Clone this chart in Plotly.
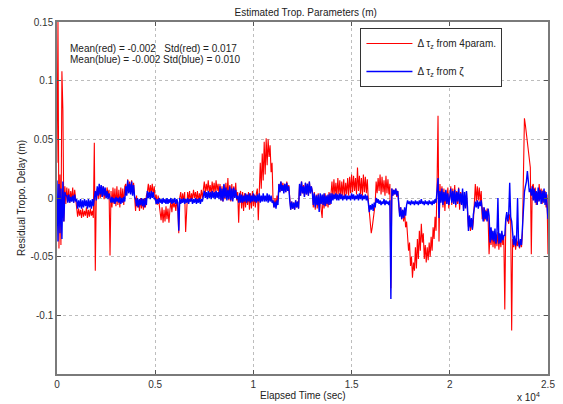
import plotly.graph_objects as go

# Residual tropospheric delay, values in millimetres, one sample every 50 s
sample_interval_s = 50

red_mm = [
    30, 150, -43, 20, -40, 108, 75, -20, 10, -5,
    9, -3, 8, -4, 6, -2, 9, -4, 7, -3,
    -8, -16, -9, -15, -10, -17, -9, -16, -11, -15, -8, -17, -10, -16, -9, -15, -11, -17,
    47, -62,
    2, 8, -1, 9, 0, 7, 1, 10, -1, 8, 0, 9, 2, 7,
    -49,
    6, -8, 9, -5, 8, -7, 10, -6, 7, -8, 9, -4, 8, -6, 10,
    12, 3, 16, 5, 14, 4, 15, 6, 13, 3,
    -11, 2, -8,
    -2, -11, 0, -9, -1, -10, 0, -8, 2,
    5, 12, 3, 11, 4, 12, 2, 10,
    -2, 3, -6, 2, -5,
    -7, -19, -8, -21, -10, -20, -7, -18, -9, -21, -10,
    -3, -12, -2, -8, -4, -11, -2, -9,
    -30,
    0, 5, -4, 4, -3, 5,
    -29, -2,
    5, -2, 6, -3, 4, -1, 7, 0, 5, -2, 6, -3, 4, -1, 7, 0, 6,
    14, 4, 12, 6, 15, 5, 11, 3, 14, 5, 13, 4, 15, 6, 12, 3,
    12, -2, 10, -3, 11, -1, 13, 0, 17, -2, 11, -3, 12, -1, 10, 0, 13, -2,
    5, -21, 3,
    6, -9, 5, -11, 4, -8, 3, -6, 5, -10, 4, -9, 6, -7, 3, -8, 4,
    8, -19, 12, 30, 8, 38, 15, 48, 20, 51, 28, 50, 35, 45, 22, 30, -2,
    -8, 0, -7, 2, -3,
    12, 5, 14, 6, 13, 7, 12, 5, 14, 6, 11,
    -2, -10, -3, -9, -4, -10, -2, -8, -3, -9,
    12, 2, 14, 4, 11, 1, 13, 3, 12, 2, 14, 4, 10,
    6, -8, 5, -10, 3, -9, 4, -7, 2, -10, -17, 3, -9, 4, -7, 2, -8, 5, -6, 3,
    14, 0, 16, 2, 13, 1, 17, 3, 15, 0, 14, 2, 16, 1, 13, 3, 17, 2,
    18, 4, 20, 5, 19, 6, 17, 3, 26, 6, 19, 3, 17, 2, 20, 5, 18, 4, 16,
    -2, -10, -20, -30, -25, -18, -10, -5,
    14, 4, 17, 6, 20, 3, 18, 5, 15, 2, 19, 4, 16, 3, 12,
    -77,
    8, 2, 7, 3, 8, 1, 6,
    -5, -15, -8, -18, -10, -20, -12, -25, -20,
    -33, -45, -38, -58, -50, -68, -55, -62, -42, -60,
    -35, -52, -28, -45, -22, -38, -30, -52, -40, -55,
    -42, -53, -38, -50, -33, -45, -25, -35, -16, -28,
    10, 70, -37,
    12, -3, 10, -8, 8, -11, 6, -5, 9, -9, 4, 10, -6, 8, -4, 11, -8, 6, -5, 9, -10, 5, -3,
    6, -10, 3, -8, 5, -11,
    -25, -15, -28, -18, -27, -20, -5,
    12, -3, 10, -2, 9, -4, 6,
    -18, -8, -20, -10, -19, -9, -17,
    -48,
    -30, -40, -28, -42, -30, -43, -32, -41, -29, -44, -31, -42, -30, -40, -33,
    -95,
    -20, -15, -18, -22, -14, -20,
    -113,
    -35, -42, -33, -44, -36, -41, -34, -43, -35, -42, -30,
    20, 68, 62, 55, 48, 40, 30, 26,
    -48,
    10, 12, -2, 9, -6, 5, -3, 12, -1, 8, -5, 7, -4, 6, -8, 3, -48,
]

blue_mm = [
    15, -37, 12, -30, 8, -35, 14, -20, 5, 2,
    2, -4, 3, -4, 1, -3, 2, -4, 3, -3,
    -1, -9, -2, -8, -1, -9, -2, -8, -1, -7, -2, -9, -1, -8, -2, -9, -1, -7,
    0, 6, -2, 10, 2, 12, 3, 11, 1, 10, 2, 9, 0, 6, -1, 4,
    0, -4, 1, -4, 0, -5, 1, -3, 0, -4, 1, -5, 0, -4, 1, -3,
    10, 2, 15, 4, 12, 3, 14, 2, 11, 1,
    -1, -7, 0, -8, -1, -6, 0, -7, -1, -8, 0, -6,
    6, 0, 5, -1, 6, 0, 5, -1,
    0, -5, -1, -5, 0, -4, -1, -5, 0, -4, -1, -5, 0, -5, -1, -4, 0, -5, -1, -4, 0, -5, -1, -4,
    -28,
    0, -5, -1, -4, 0, -5, -1, -4, 0, -5, -1, -3, 0, -5, -1, -4, 0, -5, -1, -4, 0, -5, -1, -3, 1,
    6, 0, 5, -1, 6, 0, 5, -1, 6, 0, 5, -1, 6, 0, 5, -1,
    10, -2, 8, -3, 12, 0, 9, -2, 7, -1, 10, -2, 8, -3, 9, 0, 7, -1,
    2, -4, 4, -4, 3, -4, 2, -3, 4, -4, 3, -3, 4, -4, 2, -3, 4, -3, 2, -4,
    3, -3, 4, -4, 2, -3, 4, -3, 2, -3, 4, -4, 3, -3, 2, -4, -2, -8, -3, -9, -2, -6,
    12, 5, 14, 6, 11, 4, 12, 5, 13, 6, 10,
    -2, -10, -3, -9, -4, -10, -2, -8, -3, -9,
    12, 2, 14, 4, 10, 1, 13, 3, 12, 2, 14, 4, 10,
    5, -6, 4, -8, 2, -6, 3, -12, 4, -5, 3, -6, 4, -7, 2, -5, 3, -6, 4, -5,
    4, -2, 3, -1, 4, -2, 3, -2, 4, -1,
    3, -2, 2, -1, 3, -2, 2, -1, 2, -2,
    4, -1, 3, -2, 2, -1, 3, -2, 4, -1,
    3, -2, 2, -1, 3, -2, 2,
    -4, -12, -6, -10, -5, -11, -4, -8,
    0, -4, -1, -5, -2, -6, -3, -5, -1, -6, -2, -5, -3, -6, -2,
    -86,
    8, 2, 7, 3, 8, 2, 6,
    -5, -16, -8, -18, -10, -17, -8, -15, -6,
    -2, -5, -3, -6, -2, -5, -3, -6, -2, -5,
    -3, -6, -2, -5, -1, -5, -3, -6, -2, -5,
    -3, -6, -2, -5, -3, -6, -2, -5, -1, -4,
    4, 17, -17,
    6, -4, 8, -6, 5, -3, 7, -5, 4, -6, 3, 8, -4, 6, -5, 7, -6, 5, -3, 8, -5, 4, -6,
    8, -11, 5, -9, 6, -8,
    -28, -15, -25, -17, -27, -14, -8,
    -3, -8, -2, -9, -3, -7, -2,
    -10, -20, -8, -18, -11, -20, -9,
    -15,
    -38, -25, -36, -28, -37, -26, -39, -30, 0, -39, -30, -38, -28, -36, -32,
    -32,
    -18, -12, -20, -14, 13, -16,
    -20,
    -35, -40, -32, -41, -34, 0, -38, -42, -35, -40, -25,
    -5, 5, 10, 14, 23, 15, 5, 8,
    2,
    10, -2, 8, -4, 6, -6, 9, -3, 7, -5, 6, -4, 8, -6, 5, -12, -18,
]

x_tick_vals = [0, 5000, 10000, 15000, 20000, 25000]
x_tick_text = ["0", "0.5", "1", "1.5", "2", "2.5"]
y_tick_vals = [-0.1, -0.05, 0, 0.05, 0.1, 0.15]
y_tick_text = ["-0.1", "-0.05", "0", "0.05", "0.1", "0.15"]

stats_lines = ["Mean(red) = -0.002   Std(red) = 0.017",
               "Mean(blue) = -0.002 Std(blue) = 0.010"]

t_red = [i * sample_interval_s for i in range(len(red_mm))]
t_blue = [i * sample_interval_s for i in range(len(blue_mm))]
red_m = [v / 1000 for v in red_mm]
blue_m = [v / 1000 for v in blue_mm]

FONT = "Liberation Sans, Arial, sans-serif"

fig = go.Figure()
fig.add_trace(go.Scatter(x=t_red, y=red_m, mode="lines",
                         line=dict(color="#ff0000", width=1.1),
                         name="\u0394 \u03c4<sub>z</sub> from 4param.",
                         legendgroup="a"))
fig.add_trace(go.Scatter(x=t_blue, y=blue_m, mode="lines",
                         line=dict(color="#0000ff", width=1.4),
                         name="\u0394 \u03c4<sub>z</sub> from \u03b6",
                         legendgroup="b"))

axis_common = dict(showline=True, linecolor="#7a7a7a", linewidth=1.5,
                   mirror="ticks", ticks="inside", ticklen=4, tickcolor="#555",
                   showgrid=True, gridcolor="#bdbdbd", griddash="dot", gridwidth=1,
                   zeroline=False, tickfont=dict(size=10, color="#333", family=FONT))

fig.update_xaxes(range=[0, 25000], tickvals=x_tick_vals, ticktext=x_tick_text, **axis_common)
fig.update_yaxes(range=[-0.15, 0.15], tickvals=y_tick_vals, ticktext=y_tick_text, **axis_common)

fig.update_layout(
    width=563, height=404,
    margin=dict(l=57, r=8, t=22, b=30),
    paper_bgcolor="white", plot_bgcolor="white",
    font=dict(family=FONT, size=10, color="#222"),
    title=dict(text="Estimated Trop. Parameters (m)", x=0.543, xanchor="center",
               y=1 - 12 / 404, yanchor="middle", font=dict(size=10, color="#222")),
    showlegend=True,
    legend=dict(x=0.618, y=0.983, xanchor="left", yanchor="top",
                bordercolor="#333", borderwidth=1, bgcolor="white",
                font=dict(size=10, family=FONT, color="#222"),
                traceorder="grouped", tracegroupgap=9, itemwidth=46),
    annotations=[
        dict(text=stats_lines[0], x=68, y=48, xref="paper", yref="paper", showarrow=False,
             xanchor="left", yanchor="middle", font=dict(size=10, color="#222")),
        dict(text=stats_lines[1], x=68, y=60, xref="paper", yref="paper", showarrow=False,
             xanchor="left", yanchor="middle", font=dict(size=10, color="#222")),
        dict(text="Elapsed Time (sec)", x=0.5, y=0, xref="paper", yref="paper", yshift=-21,
             showarrow=False, xanchor="center", yanchor="middle", font=dict(size=10, color="#222")),
        dict(text="x 10<sup>4</sup>", x=1, y=0, xref="paper", yref="paper", yshift=-23, xshift=-6,
             showarrow=False, xanchor="right", yanchor="middle", font=dict(size=10, color="#222")),
        dict(text="Residual Tropo. Delay (m)", x=0, y=0.5, xref="paper", yref="paper", xshift=-36,
             textangle=-90, showarrow=False, xanchor="center", yanchor="middle",
             font=dict(size=10, color="#222")),
    ],
)

# convert stats-annotation pixel anchors into paper fractions
plot_w = 563 - 57 - 8
plot_h = 404 - 22 - 30
for ann in fig.layout.annotations[:2]:
    ann.x = (ann.x - 57) / plot_w
    ann.y = 1 - (ann.y - 22) / plot_h

fig.write_html("out.html")
